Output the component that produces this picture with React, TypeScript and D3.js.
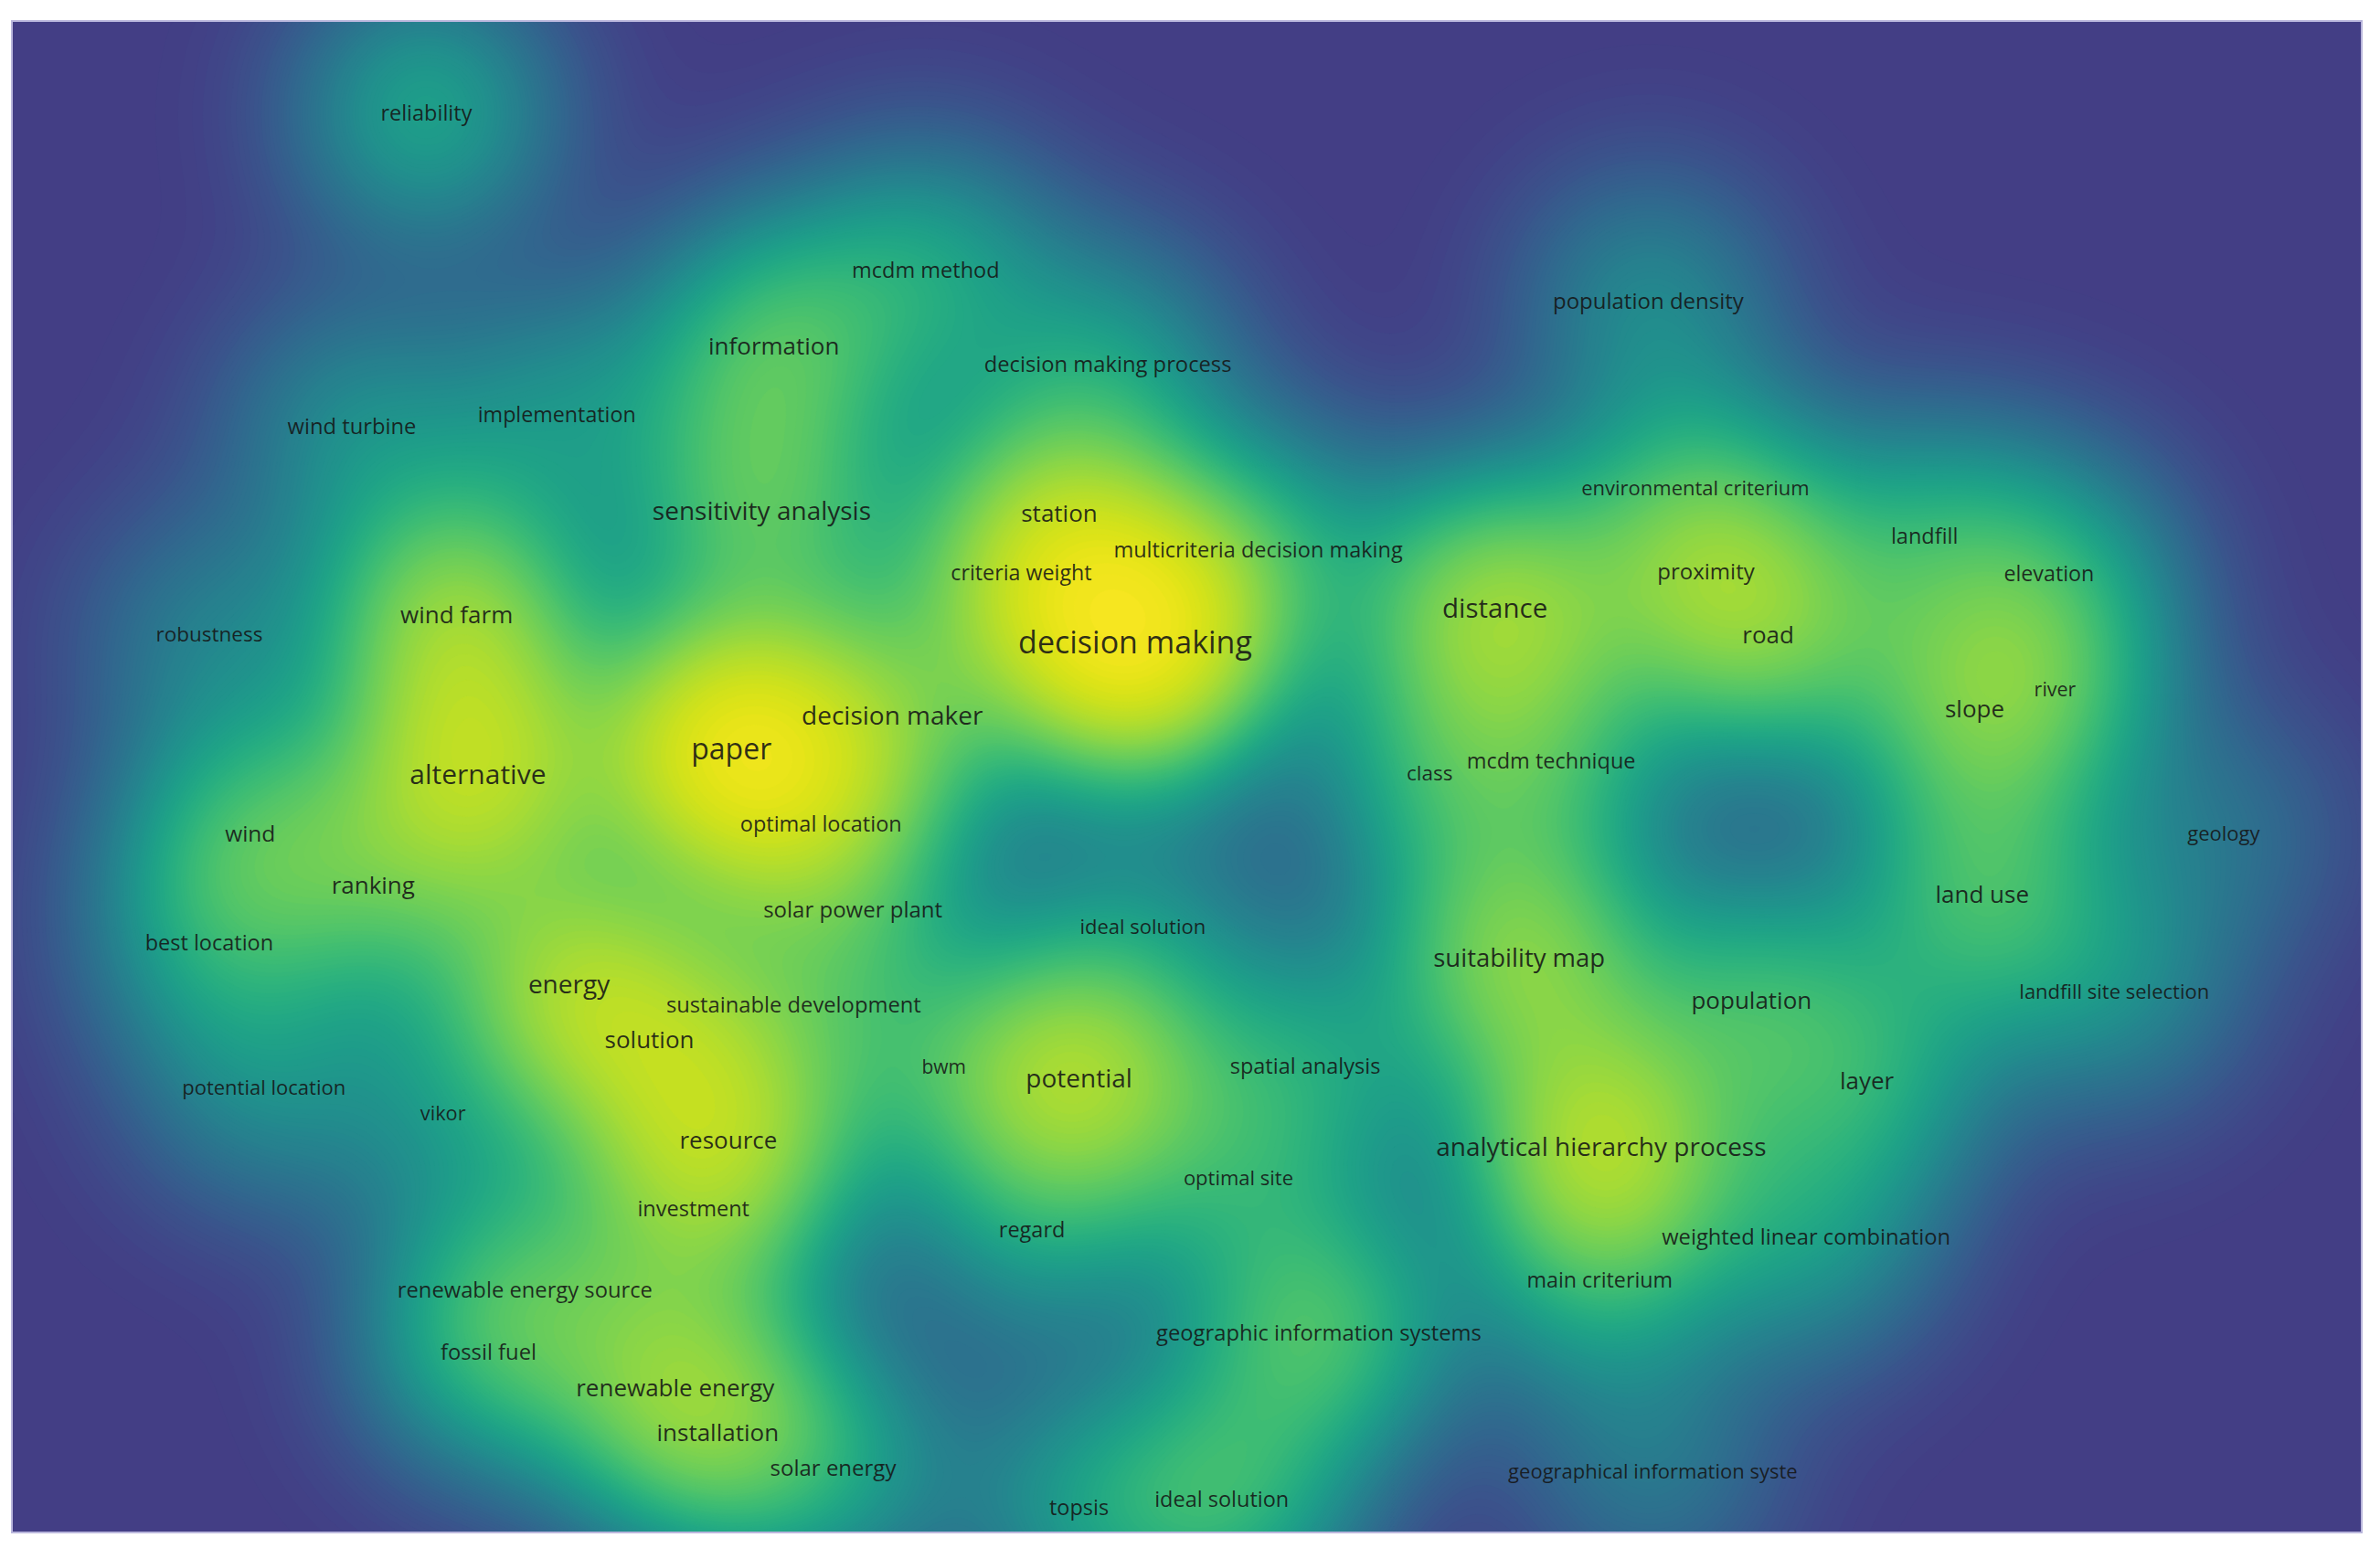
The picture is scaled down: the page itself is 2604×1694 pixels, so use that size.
import React, { useMemo } from 'react';
import * as d3 from 'd3';

// Term map (VOSviewer density view). Coordinates are map units.
const terms = [
  'reliability', 'mcdm method', 'information', 'decision making process', 'population density',
  'wind turbine', 'implementation', 'sensitivity analysis', 'station', 'multicriteria decision making',
  'criteria weight', 'environmental criterium', 'landfill', 'proximity', 'elevation',
  'distance', 'road', 'robustness', 'wind farm', 'decision making',
  'decision maker', 'paper', 'alternative', 'slope', 'river',
  'class', 'mcdm technique', 'wind', 'optimal location', 'geology',
  'ranking', 'solar power plant', 'ideal solution', 'best location', 'land use',
  'suitability map', 'energy', 'sustainable development', 'population', 'landfill site selection',
  'solution', 'potential', 'bwm', 'spatial analysis', 'layer',
  'potential location', 'vikor', 'analytical hierarchy process', 'resource', 'optimal site',
  'investment', 'regard', 'weighted linear combination', 'main criterium', 'renewable energy source',
  'geographic information systems', 'fossil fuel', 'renewable energy', 'installation', 'solar energy',
  'topsis', 'ideal solution', 'geographical information syste',
];

const mapX = [
  281, 610, 510, 730, 1086,
  232, 367, 502, 698, 829,
  673, 1117, 1268, 1124, 1350,
  985, 1165, 138, 301, 748,
  588, 482, 315, 1301, 1354,
  942, 1022, 165, 541, 1465,
  246, 562, 753, 138, 1306,
  1001, 375, 523, 1154, 1393,
  428, 711, 622, 860, 1230,
  174, 292, 1055, 480, 816,
  457, 680, 1190, 1054, 346,
  869, 322, 445, 473, 549,
  711, 805, 1089,
];

const mapY = [
  74, 178, 228, 240, 198,
  281, 273, 336, 338, 362,
  377, 321, 353, 376, 378,
  400, 418, 418, 405, 423,
  471, 493, 510, 467, 454,
  509, 501, 549, 543, 549,
  583, 599, 610, 621, 589,
  631, 648, 662, 659, 653,
  685, 710, 703, 702, 712,
  716, 733, 755, 751, 776,
  796, 810, 815, 843, 850,
  878, 891, 914, 944, 967,
  993, 988, 969,
];

const occurrences = [
  18, 18, 28, 19, 20,
  19, 17, 36, 28, 18,
  17, 12, 18, 20, 17,
  42, 28, 14, 28, 60,
  36, 52, 44, 28, 10,
  14, 18, 22, 18, 12,
  28, 20, 12, 18, 28,
  34, 36, 19, 28, 12,
  28, 36, 8, 18, 28,
  12, 11, 36, 28, 12,
  18, 18, 19, 17, 19,
  19, 19, 28, 28, 20,
  18, 18, 12,
];

// kernel weight of each term in the density estimate
const density = [
  0.66, 0.6, 0.9, 0.5, 0.42,
  0.42, 0.44, 0.95, 0.8, 0.6,
  0.75, 0.45, 0.5, 0.8, 0.55,
  1.45, 0.9, 0.33, 1.35, 2.6,
  0.85, 2.4, 1.6, 0.9, 0.45,
  0.55, 0.6, 0.72, 0.6, 0.24,
  0.6, 0.4, 0.35, 0.45, 0.85,
  1.3, 1.2, 0.42, 0.7, 0.4,
  0.85, 1.5, 0.45, 0.55, 0.6,
  0.38, 0.33, 1.6, 1.15, 0.45,
  0.58, 0.45, 0.5, 0.5, 0.55,
  0.95, 0.55, 0.9, 0.65, 0.5,
  0.45, 0.8, 0.3,
];

const width = 2604;
const height = 1694;
const plot = { left: 13, top: 23, right: 2584, bottom: 1677 };
const kernel = 60; // map units

const App = () => {
  const x = d3.scaleLinear().domain([8, 1556]).range([plot.left, plot.right]);
  const y = d3.scaleLinear().domain([14, 1010]).range([plot.top, plot.bottom]);
  const fontSize = d3.scaleLinear().domain([10, 60]).range([21.5, 34]);
  const colour = (u: number) => d3.interpolateViridis(0.18 + 0.82 * Math.min(1, u / 0.96));

  const bands = useMemo(() => {
    const cell = 5;
    const pw = plot.right - plot.left;
    const ph = plot.bottom - plot.top;
    const nx = Math.ceil(pw / cell) + 1;
    const ny = Math.ceil(ph / cell) + 1;
    const sigma = x(8 + kernel) - x(8);
    const s2 = 2 * sigma * sigma;
    const px = mapX.map((v) => x(v) - plot.left);
    const py = mapY.map((v) => y(v) - plot.top);
    const values = new Float64Array(nx * ny);
    for (let j = 0; j < ny; j++) {
      const gy = (j + 0.5) * cell;
      for (let i = 0; i < nx; i++) {
        const gx = (i + 0.5) * cell;
        let d = 0;
        for (let k = 0; k < px.length; k++) {
          const dx = gx - px[k];
          const dy = gy - py[k];
          const r2 = dx * dx + dy * dy;
          if (r2 < 16 * s2) d += 0.88 * density[k] * Math.exp(-r2 / s2);
        }
        values[j * nx + i] = 1 - Math.exp(-d);
      }
    }
    const thresholds = d3.range(1, 140).map((k) => k / 140);
    const contours = d3.contours().size([nx, ny]).thresholds(thresholds)(Array.from(values));
    const path = d3.geoPath(d3.geoIdentity().scale(cell));
    return contours.map((c) => ({ value: c.value, d: path(c) || '' }));
  }, []);

  return (
    <svg
      width={width}
      height={height}
      style={{ position: 'absolute', left: 0, top: 0, background: '#fff' }}
      fontFamily="'Open Sans', 'Noto Sans', sans-serif"
    >
      <defs>
        <clipPath id="plot-clip">
          <rect x={plot.left} y={plot.top} width={plot.right - plot.left} height={plot.bottom - plot.top} />
        </clipPath>
      </defs>
      <g clipPath="url(#plot-clip)">
        <rect x={plot.left} y={plot.top} width={plot.right - plot.left} height={plot.bottom - plot.top} fill={colour(0)} />
        <g transform={`translate(${plot.left},${plot.top})`}>
          {bands.map((b, i) => (
            <path key={i} d={b.d} fill={colour(b.value)} stroke={colour(b.value)} strokeWidth={0.6} />
          ))}
        </g>
      </g>
      <rect
        x={plot.left}
        y={plot.top}
        width={plot.right - plot.left}
        height={plot.bottom - plot.top}
        fill="none"
        stroke="#b9b6dc"
        strokeWidth={2}
      />
      <g fill="#151515" fillOpacity={0.88} textAnchor="middle">
        {terms.map((t, i) => (
          <text key={i} x={x(mapX[i])} y={y(mapY[i])} fontSize={fontSize(occurrences[i])} dominantBaseline="central">
            {t}
          </text>
        ))}
      </g>
    </svg>
  );
};

export default App;
